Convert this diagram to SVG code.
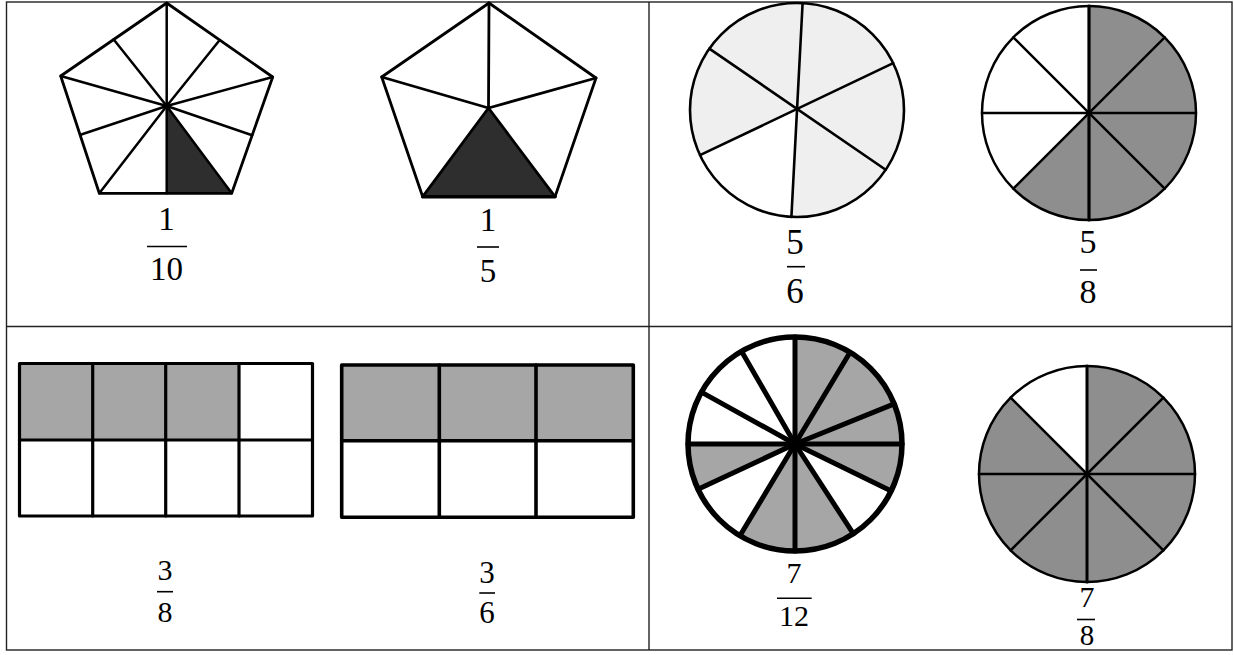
<svg xmlns="http://www.w3.org/2000/svg" width="1234" height="655" viewBox="0 0 1234 655">
<style>
.grid{stroke:#222;stroke-width:1.4;fill:none}
.ol{fill:none;stroke:#000;stroke-linejoin:round;stroke-linecap:round}
.sp{stroke:#000;stroke-linecap:round}
.num{font-family:"Liberation Serif","DejaVu Serif",serif;fill:#000;text-anchor:middle}
.bar{stroke:#000;stroke-width:1.6}
.dark{fill:#2e2e2e}
.mid{fill:#8e8e8e}
.lite{fill:#a6a6a6}
.faint{fill:#efefef}
</style>
<rect x="0" y="0" width="1234" height="655" fill="#fff"/>
<g id="table" class="grid">
<rect x="6.5" y="2" width="1225.5" height="648"/>
<line x1="6.5" y1="326.5" x2="1232" y2="326.5"/>
<line x1="649" y1="2" x2="649" y2="650"/>
</g>
<g id="pentagon-1-10">
<polygon class="dark" points="166.7,106 166.7,193.3 231.7,193.3"/>
<g class="sp" stroke-width="2.5">
<line x1="166.7" y1="106" x2="166.7" y2="3"/>
<line x1="166.7" y1="106" x2="219.7" y2="40"/>
<line x1="166.7" y1="106" x2="272.7" y2="77"/>
<line x1="166.7" y1="106" x2="252.2" y2="135.2"/>
<line x1="166.7" y1="106" x2="231.7" y2="193.3"/>
<line x1="166.7" y1="106" x2="166.7" y2="193.3"/>
<line x1="166.7" y1="106" x2="99.3" y2="193.3"/>
<line x1="166.7" y1="106" x2="80.5" y2="134.7"/>
<line x1="166.7" y1="106" x2="60.7" y2="76"/>
<line x1="166.7" y1="106" x2="113.7" y2="39.5"/>
</g>
<polygon class="ol" stroke-width="2.8" points="166.7,3 272.7,77 231.7,193.3 99.3,193.3 60.7,76"/>
<text class="num" x="166.5" y="230" font-size="33">1</text>
<line class="bar" x1="147" y1="246.5" x2="187" y2="246.5"/>
<text class="num" x="166.5" y="280" font-size="33">10</text>
</g>
<g id="pentagon-1-5">
<polygon class="dark" points="488.5,108 422.7,196.7 555,196.7"/>
<g class="sp" stroke-width="2.8">
<line x1="488.5" y1="108" x2="489" y2="3"/>
<line x1="488.5" y1="108" x2="596" y2="78"/>
<line x1="488.5" y1="108" x2="555" y2="196.7"/>
<line x1="488.5" y1="108" x2="422.7" y2="196.7"/>
<line x1="488.5" y1="108" x2="381.7" y2="77"/>
</g>
<polygon class="ol" stroke-width="2.8" points="489,3 596,78 555,196.7 422.7,196.7 381.7,77"/>
<line class="sp" stroke-width="3.5" x1="422.7" y1="196.7" x2="555" y2="196.7"/>
<text class="num" x="488" y="231" font-size="33">1</text>
<line class="bar" x1="477" y1="247" x2="499" y2="247"/>
<text class="num" x="488" y="282" font-size="33">5</text>
</g>
<g id="circle-5-6">
<circle class="faint" cx="797" cy="110" r="107"/>
<path fill="#fff" d="M797,110 L791.4,216.9 A107,107 0 0 1 700,155.2 Z"/>
<g class="sp" stroke-width="2.6">
<line x1="802.6" y1="3.2" x2="791.4" y2="216.9"/>
<line x1="893.2" y1="63.1" x2="700" y2="155.2"/>
<line x1="885.7" y1="169.8" x2="709.3" y2="48.6"/>
</g>
<circle class="ol" stroke-width="2.6" cx="797" cy="110" r="107"/>
<text class="num" x="795" y="254" font-size="35">5</text>
<line class="bar" x1="787" y1="266.7" x2="805" y2="266.7"/>
<text class="num" x="795" y="303" font-size="35">6</text>
</g>
<g id="circle-5-8">
<path class="mid" d="M1089,113 L1089,6 A107,107 0 1 1 1013.3,188.7 Z"/>
<g class="sp" stroke-width="2.4">
<line x1="1089" y1="6" x2="1089" y2="220" stroke-width="3.2"/>
<line x1="982" y1="113" x2="1196" y2="113"/>
<line x1="1013.3" y1="37.3" x2="1164.7" y2="188.7"/>
<line x1="1164.7" y1="37.3" x2="1013.3" y2="188.7"/>
</g>
<circle class="ol" stroke-width="2.5" cx="1089" cy="113" r="107"/>
<text class="num" x="1088" y="253" font-size="34">5</text>
<line class="bar" x1="1080" y1="270" x2="1097" y2="270"/>
<text class="num" x="1088" y="303" font-size="34">8</text>
</g>
<g id="rect-3-8">
<rect class="lite" x="19.5" y="363.5" width="219.5" height="76.5"/>
<rect class="ol" stroke-width="3.2" x="19.5" y="363.5" width="293" height="152.5" stroke-linejoin="miter"/>
<g class="sp" stroke-width="3.2" stroke-linecap="butt">
<line x1="19.5" y1="440" x2="312.5" y2="440"/>
<line x1="92.7" y1="363.5" x2="92.7" y2="516"/>
<line x1="165.7" y1="363.5" x2="165.7" y2="516"/>
<line x1="239" y1="363.5" x2="239" y2="516"/>
</g>
<text class="num" x="165" y="580" font-size="30">3</text>
<line class="bar" x1="157" y1="591.7" x2="173" y2="591.7"/>
<text class="num" x="165" y="622" font-size="30">8</text>
</g>
<g id="rect-3-6">
<rect class="lite" x="341.7" y="365" width="291.6" height="75.7"/>
<rect class="ol" stroke-width="3.6" x="341.7" y="365" width="291.6" height="152.3" stroke-linejoin="miter"/>
<g class="sp" stroke-width="3.6" stroke-linecap="butt">
<line x1="341.7" y1="440.7" x2="633.3" y2="440.7"/>
<line x1="439.3" y1="365" x2="439.3" y2="517.3"/>
<line x1="536" y1="365" x2="536" y2="517.3"/>
</g>
<text class="num" x="487" y="583" font-size="31">3</text>
<line class="bar" x1="479.3" y1="593" x2="495" y2="593"/>
<text class="num" x="487" y="623" font-size="31">6</text>
</g>
<g id="circle-7-12">
<path class="lite" d="M795,444 L795,337 A107,107 0 0 1 891.2,490.9 Z"/>
<path class="lite" d="M795,444 L853.3,533.7 A107,107 0 0 1 739.9,535.7 Z"/>
<path class="lite" d="M795,444 L698,489.2 A107,107 0 0 1 688,444 Z"/>
<g class="sp" stroke-width="5">
<line x1="795" y1="444" x2="795" y2="337"/>
<line x1="795" y1="444" x2="850.1" y2="352.3"/>
<line x1="795" y1="444" x2="894.2" y2="403.9"/>
<line x1="795" y1="444" x2="902" y2="444"/>
<line x1="795" y1="444" x2="891.2" y2="490.9"/>
<line x1="795" y1="444" x2="853.3" y2="533.7"/>
<line x1="795" y1="444" x2="795" y2="551"/>
<line x1="795" y1="444" x2="739.9" y2="535.7"/>
<line x1="795" y1="444" x2="698" y2="489.2"/>
<line x1="795" y1="444" x2="688" y2="444"/>
<line x1="795" y1="444" x2="701.4" y2="392.1"/>
<line x1="795" y1="444" x2="741.5" y2="351.3"/>
</g>
<circle fill="#000" cx="795" cy="444" r="6"/>
<circle class="ol" stroke-width="5.5" cx="795" cy="444" r="107"/>
<text class="num" x="794" y="583" font-size="30">7</text>
<line class="bar" x1="777" y1="598.3" x2="811.7" y2="598.3"/>
<text class="num" x="794" y="626" font-size="30">12</text>
</g>
<g id="circle-7-8">
<path class="mid" d="M1087,474 L1087,366 A108,108 0 1 1 1010.6,397.6 Z"/>
<g class="sp" stroke-width="2.6">
<line x1="1087" y1="366" x2="1087" y2="582" stroke-width="3"/>
<line x1="979" y1="474" x2="1195" y2="474"/>
<line x1="1010.6" y1="397.6" x2="1163.4" y2="550.4"/>
<line x1="1163.4" y1="397.6" x2="1010.6" y2="550.4"/>
</g>
<circle class="ol" stroke-width="2.5" cx="1087" cy="474" r="108"/>
<text class="num" x="1087" y="607" font-size="30">7</text>
<line class="bar" x1="1077" y1="619.5" x2="1095" y2="619.5"/>
<text class="num" x="1087" y="645" font-size="29">8</text>
</g>
</svg>
